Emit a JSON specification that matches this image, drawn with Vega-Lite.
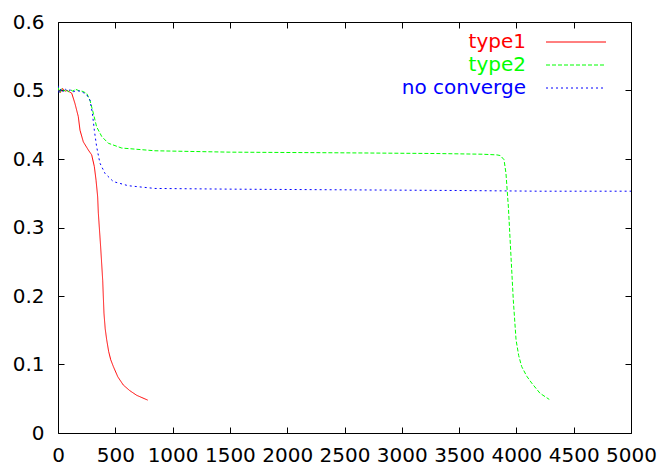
{
  "$schema": "https://vega.github.io/schema/vega-lite/v6.json",
  "width": 573,
  "height": 411,
  "autosize": {"type": "none"},
  "padding": {"left": 58, "top": 22, "right": 30, "bottom": 35},
  "background": "white",
  "config": {
    "font": "DejaVu Sans",
    "view": {"stroke": "black", "strokeWidth": 1},
    "axis": {
      "grid": false,
      "domain": false,
      "tickColor": "black",
      "tickSize": -6,
      "tickWidth": 1,
      "labelFont": "DejaVu Sans",
      "labelFontSize": 20,
      "labelColor": "black",
      "title": null
    }
  },
  "data": {"values": [
    {"s": "type1", "x": 0, "y": 0.502}, {"s": "type1", "x": 20, "y": 0.497}, {"s": "type1", "x": 40, "y": 0.503}, {"s": "type1", "x": 60, "y": 0.499}, {"s": "type1", "x": 80, "y": 0.5}, {"s": "type1", "x": 100, "y": 0.498}, {"s": "type1", "x": 120, "y": 0.496}, {"s": "type1", "x": 148, "y": 0.481}, {"s": "type1", "x": 177, "y": 0.462}, {"s": "type1", "x": 192, "y": 0.442}, {"s": "type1", "x": 221, "y": 0.425}, {"s": "type1", "x": 265, "y": 0.413}, {"s": "type1", "x": 294, "y": 0.406}, {"s": "type1", "x": 317, "y": 0.389}, {"s": "type1", "x": 332, "y": 0.369}, {"s": "type1", "x": 346, "y": 0.345}, {"s": "type1", "x": 352, "y": 0.321}, {"s": "type1", "x": 372, "y": 0.272}, {"s": "type1", "x": 390, "y": 0.223}, {"s": "type1", "x": 401, "y": 0.175}, {"s": "type1", "x": 412, "y": 0.152}, {"s": "type1", "x": 425, "y": 0.136}, {"s": "type1", "x": 442, "y": 0.119}, {"s": "type1", "x": 460, "y": 0.107}, {"s": "type1", "x": 483, "y": 0.097}, {"s": "type1", "x": 522, "y": 0.082}, {"s": "type1", "x": 570, "y": 0.07}, {"s": "type1", "x": 625, "y": 0.062}, {"s": "type1", "x": 687, "y": 0.055}, {"s": "type1", "x": 783, "y": 0.048},
    {"s": "type2", "x": 0, "y": 0.505}, {"s": "type2", "x": 15, "y": 0.497}, {"s": "type2", "x": 30, "y": 0.503}, {"s": "type2", "x": 50, "y": 0.499}, {"s": "type2", "x": 70, "y": 0.502}, {"s": "type2", "x": 90, "y": 0.498}, {"s": "type2", "x": 110, "y": 0.501}, {"s": "type2", "x": 130, "y": 0.499}, {"s": "type2", "x": 150, "y": 0.502}, {"s": "type2", "x": 180, "y": 0.5}, {"s": "type2", "x": 210, "y": 0.499}, {"s": "type2", "x": 250, "y": 0.496}, {"s": "type2", "x": 280, "y": 0.485}, {"s": "type2", "x": 308, "y": 0.467}, {"s": "type2", "x": 337, "y": 0.447}, {"s": "type2", "x": 381, "y": 0.433}, {"s": "type2", "x": 439, "y": 0.423}, {"s": "type2", "x": 556, "y": 0.416}, {"s": "type2", "x": 846, "y": 0.412}, {"s": "type2", "x": 1500, "y": 0.41}, {"s": "type2", "x": 2500, "y": 0.409}, {"s": "type2", "x": 3300, "y": 0.408}, {"s": "type2", "x": 3700, "y": 0.407}, {"s": "type2", "x": 3830, "y": 0.406}, {"s": "type2", "x": 3860, "y": 0.405}, {"s": "type2", "x": 3892, "y": 0.399}, {"s": "type2", "x": 3909, "y": 0.379}, {"s": "type2", "x": 3930, "y": 0.33}, {"s": "type2", "x": 3953, "y": 0.257}, {"s": "type2", "x": 3973, "y": 0.194}, {"s": "type2", "x": 3987, "y": 0.16}, {"s": "type2", "x": 3997, "y": 0.136}, {"s": "type2", "x": 4020, "y": 0.113}, {"s": "type2", "x": 4046, "y": 0.097}, {"s": "type2", "x": 4090, "y": 0.083}, {"s": "type2", "x": 4133, "y": 0.073}, {"s": "type2", "x": 4206, "y": 0.058}, {"s": "type2", "x": 4287, "y": 0.049},
    {"s": "no converge", "x": 0, "y": 0.507}, {"s": "no converge", "x": 10, "y": 0.496}, {"s": "no converge", "x": 25, "y": 0.503}, {"s": "no converge", "x": 45, "y": 0.498}, {"s": "no converge", "x": 65, "y": 0.502}, {"s": "no converge", "x": 85, "y": 0.499}, {"s": "no converge", "x": 105, "y": 0.501}, {"s": "no converge", "x": 130, "y": 0.498}, {"s": "no converge", "x": 160, "y": 0.5}, {"s": "no converge", "x": 190, "y": 0.499}, {"s": "no converge", "x": 220, "y": 0.497}, {"s": "no converge", "x": 250, "y": 0.494}, {"s": "no converge", "x": 279, "y": 0.486}, {"s": "no converge", "x": 300, "y": 0.467}, {"s": "no converge", "x": 317, "y": 0.442}, {"s": "no converge", "x": 337, "y": 0.418}, {"s": "no converge", "x": 366, "y": 0.394}, {"s": "no converge", "x": 410, "y": 0.379}, {"s": "no converge", "x": 483, "y": 0.367}, {"s": "no converge", "x": 613, "y": 0.361}, {"s": "no converge", "x": 846, "y": 0.357}, {"s": "no converge", "x": 1500, "y": 0.356}, {"s": "no converge", "x": 2500, "y": 0.355}, {"s": "no converge", "x": 3500, "y": 0.354}, {"s": "no converge", "x": 4200, "y": 0.353}, {"s": "no converge", "x": 5000, "y": 0.353}
  ]},
  "resolve": {"axis": {"x": "independent", "y": "independent"}},
  "layer": [
    {
      "mark": {"type": "line", "strokeWidth": 1, "clip": true},
      "encoding": {
        "x": {"field": "x", "type": "quantitative", "scale": {"domain": [0, 5000], "nice": false, "zero": false},
              "axis": {"values": [0, 500, 1000, 1500, 2000, 2500, 3000, 3500, 4000, 4500, 5000], "format": "d", "labelPadding": 18, "labelFlush": false, "labelOverlap": false}},
        "y": {"field": "y", "type": "quantitative", "scale": {"domain": [0, 0.6], "nice": false},
              "axis": {"values": [0, 0.1, 0.2, 0.3, 0.4, 0.5, 0.6], "format": ".1~f", "labelPadding": 20, "labelFlush": false, "labelOverlap": false}},
        "color": {"field": "s", "type": "nominal",
          "scale": {"domain": ["type1", "type2", "no converge"], "range": ["#ff0000", "#00ff00", "#0000ff"]},
          "legend": {
            "title": null, "orient": "none", "legendX": 508, "legendY": 10, "padding": 0,
            "symbolType": "M-6,0H6", "symbolSize": 100, "symbolStrokeWidth": 1, "rowPadding": 3,
            "labelAlign": "right", "labelOffset": -60, "labelFontSize": 20, "labelFont": "DejaVu Sans", "labelLimit": 300,
            "encode": {"labels": {"update": {"fill": {"scale": "color", "field": "value"}}}}
          }},
        "strokeDash": {"field": "s", "type": "nominal",
          "scale": {"domain": ["type1", "type2", "no converge"], "range": [[1, 0], [4, 2], [2, 3]]},
          "legend": {
            "title": null, "orient": "none", "legendX": 508, "legendY": 10, "padding": 0,
            "symbolType": "M-6,0H6", "symbolSize": 100, "symbolStrokeWidth": 1, "rowPadding": 3,
            "labelAlign": "right", "labelOffset": -60, "labelFontSize": 20, "labelFont": "DejaVu Sans", "labelLimit": 300,
            "encode": {"labels": {"update": {"fill": {"scale": "color", "field": "value"}}}}
          }}
      }
    },
    {
      "mark": {"type": "line", "opacity": 0},
      "encoding": {
        "x": {"field": "x", "type": "quantitative", "axis": {"orient": "top", "labels": false, "values": [0, 500, 1000, 1500, 2000, 2500, 3000, 3500, 4000, 4500, 5000]}},
        "y": {"field": "y", "type": "quantitative", "axis": {"orient": "right", "labels": false, "values": [0, 0.1, 0.2, 0.3, 0.4, 0.5, 0.6]}},
        "detail": {"field": "s"}
      }
    }
  ]
}
